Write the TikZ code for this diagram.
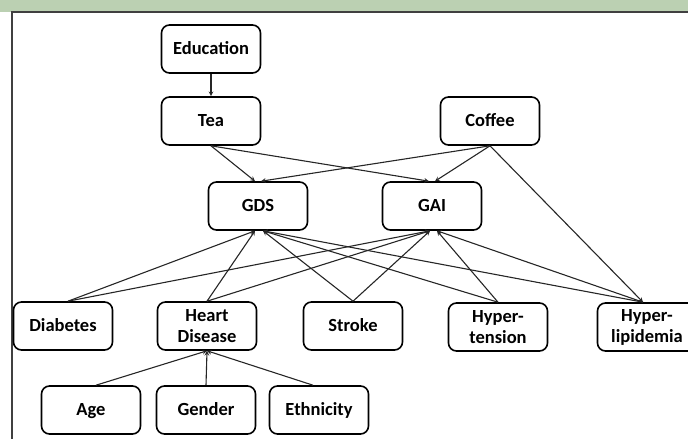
\documentclass[tikz,border=0pt]{standalone}
\usepackage{fontspec}
\setmainfont{Carlito}
\usepackage{tikz}
\definecolor{bandgreen}{HTML}{BBD0B2}
\definecolor{framegray}{HTML}{404040}

\begin{document}
\begin{tikzpicture}[x=1pt, y=-1pt,
    box/.style={draw, line width=1.6pt, rounded corners=8pt, minimum width=99pt, minimum height=48pt,
        align=center, inner sep=2pt, font=\fontsize{18.5}{21}\selectfont\bfseries},
    oneline/.style={box, text height=14pt, text depth=3pt},
    link/.style={->, >=stealth, line width=1.1pt, black!85}]
    \useasboundingbox (0,0) rectangle (688,439);
    \clip (0,0) rectangle (688,439);

    % Header band and frame
    \fill[bandgreen] (0,0) rectangle (688,12);
    \draw[framegray, line width=1.2pt] (688,12) -- (12,12) -- (12,439);

    % Top: education, tea, coffee
    \node[oneline] (edu) at (211,49) {Education};
    \node[oneline] (tea) at (211,121) {Tea};
    \node[oneline] (coffee) at (490,121) {Coffee};

    % Outcomes
    \node[oneline] (gds) at (258,206) {GDS};
    \node[oneline] (gai) at (432,206) {GAI};

    % Conditions
    \node[oneline] (diab) at (63,326) {Diabetes};
    \node[box] (heart) at (207,326) {Heart\\Disease};
    \node[oneline] (stroke) at (353,326) {Stroke};
    \node[box] (hyten) at (498,327) {Hyper-\\tension};
    \node[box] (hylip) at (647,327) {Hyper-\\lipidemia};

    % Demographics
    \node[oneline] (age) at (91,410) {Age};
    \node[oneline] (gender) at (206,410) {Gender};
    \node[oneline] (eth) at (319,410) {Ethnicity};

    % Education -> Tea
    \draw[link] (edu) -- (tea);

    % Drinks -> outcomes
    \draw[link] (tea.south) -- ([xshift=-3pt]gds.north);
    \draw[link] (tea.south) -- ([xshift=-3pt]gai.north);
    \draw[link] (coffee.south) -- ([xshift=3pt]gds.north);
    \draw[link] (coffee.south) -- ([xshift=3pt]gai.north);
    \draw[link] (coffee.south) -- ([xshift=-4pt]hylip.north);

    % Conditions -> GDS
    \draw[link] ([xshift=5pt]diab.north) -- ([xshift=-3pt]gds.south);
    \draw[link] (heart.north) -- ([xshift=-3pt]gds.south);
    \draw[link] (stroke.north) -- ([xshift=5pt]gds.south);
    \draw[link] (hyten.north) -- ([xshift=5pt]gds.south);
    \draw[link] ([xshift=-4pt]hylip.north) -- ([xshift=5pt]gds.south);

    % Conditions -> GAI
    \draw[link] ([xshift=5pt]diab.north) -- ([xshift=-2pt]gai.south);
    \draw[link] (heart.north) -- ([xshift=-2pt]gai.south);
    \draw[link] (stroke.north) -- ([xshift=-2pt]gai.south);
    \draw[link] (hyten.north) -- ([xshift=5pt]gai.south);
    \draw[link] ([xshift=-4pt]hylip.north) -- ([xshift=5pt]gai.south);

    % Demographics -> Heart Disease
    \draw[link] ([xshift=5pt]age.north) -- (heart.south);
    \draw[link] (gender.north) -- (heart.south);
    \draw[link] ([xshift=-6pt]eth.north) -- (heart.south);
\end{tikzpicture}
\end{document}
